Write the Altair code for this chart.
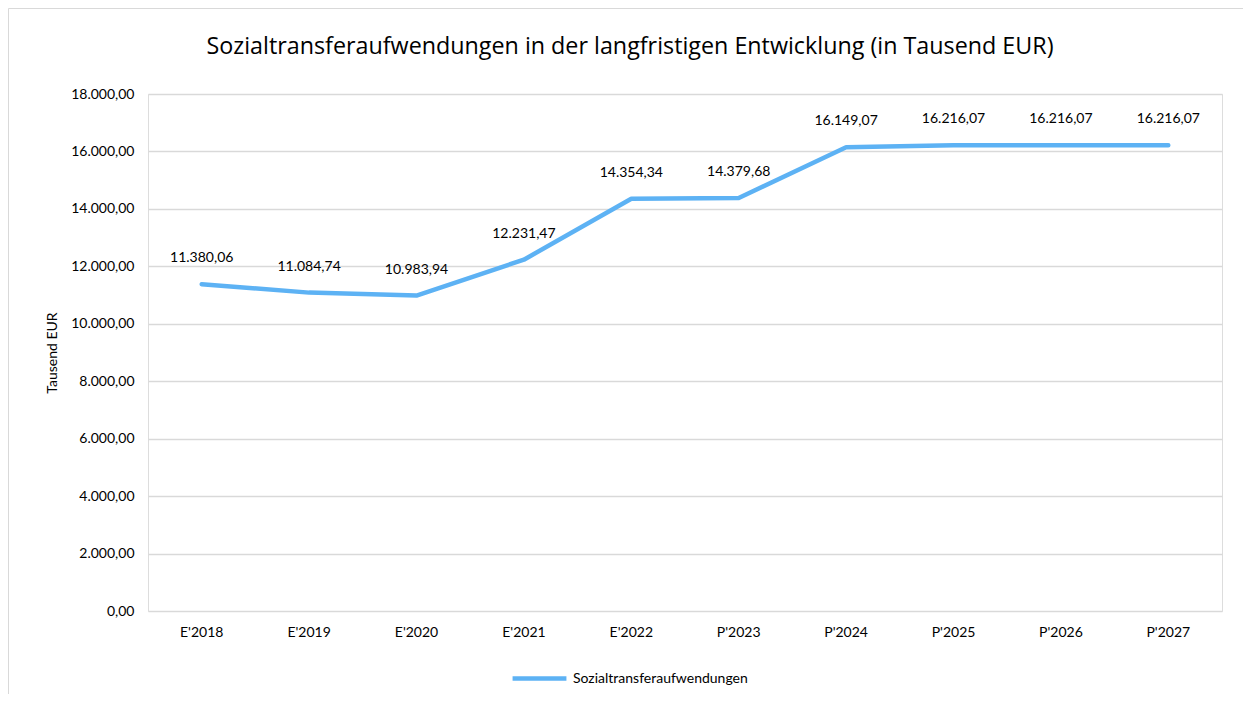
import altair as alt
import pandas as pd

categories = ["E'2018", "E'2019", "E'2020", "E'2021", "E'2022", "P'2023", "P'2024", "P'2025", "P'2026", "P'2027"]
values = [11380.06, 11084.74, 10983.94, 12231.47, 14354.34, 14379.68, 16149.07, 16216.07, 16216.07, 16216.07]
series_name = "Sozialtransferaufwendungen"
title_text = "Sozialtransferaufwendungen in der langfristigen Entwicklung (in Tausend EUR)"
y_ticks = [0, 2000, 4000, 6000, 8000, 10000, 12000, 14000, 16000, 18000]


def de_format(v):
    s = f"{v:,.2f}"
    return s.replace(",", "_").replace(".", ",").replace("_", ".")


df = pd.DataFrame({
    "Jahr": categories,
    "Wert": values,
    "Label": [de_format(v) for v in values],
    "Serie": [series_name] * len(values),
})

FONT = "Lato"
TFONT = "Open Sans"
LINE = "#5DB2F4"
W, H = 1074, 517
FS = 14

x_enc = alt.X("Jahr:N", sort=categories,
              scale=alt.Scale(type="band", paddingInner=0, paddingOuter=0),
              axis=alt.Axis(title=None, labelAngle=0, ticks=False, domain=False,
                            grid=False, labelPadding=14, labelFontSize=FS,
                            labelFont=FONT, labelColor="#000000"))
y_enc = alt.Y("Wert:Q", scale=alt.Scale(domain=[0, 18000], nice=False),
              axis=alt.Axis(title="Tausend EUR", values=y_ticks, ticks=False, domain=False,
                            grid=True, gridColor="#D9D9D9", gridWidth=1.3,
                            labelPadding=14, labelFontSize=FS, labelFont=FONT,
                            labelColor="#000000",
                            labelExpr="replace(replace(replace(format(datum.value, ',.2f'), '.', ';'), ',', '.'), ';', ',')",
                            titleFont=FONT, titleFontSize=FS, titleFontWeight="normal",
                            titleColor="#000000", titlePadding=11))

base = alt.Chart(df)

line = base.mark_line(strokeWidth=4.5, strokeCap="round", strokeJoin="round").encode(
    x=x_enc,
    y=y_enc,
    color=alt.Color("Serie:N", scale=alt.Scale(range=[LINE]),
                    legend=alt.Legend(title=None, orient="none", legendX=362, legendY=555,
                                      symbolType="stroke", symbolSize=2900,
                                      symbolStrokeWidth=4.5, symbolStrokeColor=LINE,
                                      labelFont=FONT, labelLimit=0,
                                      labelFontSize=FS, labelColor="#000000",
                                      labelOffset=4)),
)

labels = base.mark_text(dy=-26, fontSize=FS, font=FONT, color="#000000").encode(
    x=alt.X("Jahr:N", sort=categories),
    y="Wert:Q",
    text="Label:N",
)

deco = pd.DataFrame({"t": [title_text]})

frame = alt.Chart(deco).mark_rect(
    fill=None, stroke="#D9D9D9", strokeWidth=1
).encode(
    x=alt.value(-139.5), x2=alt.value(1100.5),
    y=alt.value(-85.5), y2=alt.value(700),
)

title = alt.Chart(deco).mark_text(
    fontSize=23.3, font=TFONT, color="#000000", baseline="middle", align="center"
).encode(
    x=alt.value(482), y=alt.value(-47), text="t:N",
)

chart = alt.layer(frame, title, line, labels).properties(
    width=W, height=H,
    autosize=alt.AutoSizeParams(type="none"),
    padding={"left": 140, "top": 86, "right": 21, "bottom": 83},
).configure_view(stroke=None).configure(background="#FFFFFF")

chart.save("out.html", embed_options={"renderer": "svg", "actions": False})
